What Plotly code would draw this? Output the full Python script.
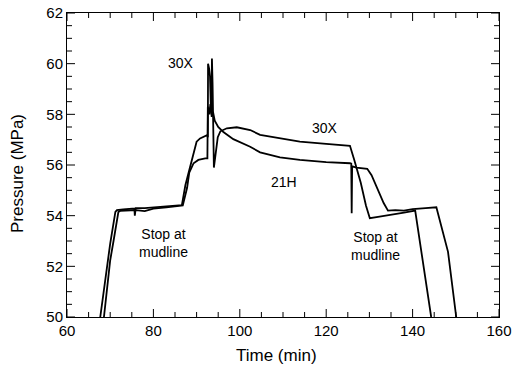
import numpy as np
import plotly.graph_objects as go

# ---- data ----
t_30x = [67.7, 68.5, 69.2, 70.0, 71.2, 71.55, 73.0, 75.0, 75.6, 75.7, 75.9, 78.0, 80.0, 83.0,
         86.6, 87.4, 88.5, 89.65, 90.0, 90.8, 91.6, 92.4, 92.6, 92.65, 92.9, 93.1, 93.3, 93.45,
         93.55, 93.7, 94.0, 94.4, 94.9, 95.5, 97.0, 99.3, 102.4, 104.7, 109.3, 113.9, 120.0,
         125.5, 126.5, 128.0, 129.2, 130.1, 132.0, 135.0, 138.0, 140.6, 142.4, 144.3]
p_30x = [50.0, 51.06, 51.98, 52.9, 54.15, 54.22, 54.25, 54.28, 54.28, 54.0, 54.3, 54.3, 54.33, 54.36,
         54.42, 55.2, 55.9, 56.72, 56.92, 57.05, 57.1, 57.18, 57.1, 60.0, 59.8, 59.5, 58.3, 58.0,
         60.2, 59.2, 55.9, 56.5, 57.1, 57.33, 57.45, 57.49, 57.38, 57.19, 57.05, 56.92, 56.83,
         56.76, 56.2, 55.3, 54.4, 53.9, 53.95, 54.05, 54.12, 54.2, 52.17, 50.0]

t_21h = [68.55, 69.2, 70.0, 70.8, 71.9, 72.3, 74.0, 76.0, 78.0, 80.0, 83.0, 86.8, 87.8, 88.3,
         89.3, 90.4, 92.0, 92.5, 92.6, 92.9, 93.2, 93.5, 93.8, 94.2, 95.0, 96.2, 98.5, 100.0,
         102.4, 104.7, 109.3, 113.9, 120.0, 125.5, 125.8, 125.9, 126.0, 127.0, 129.5, 130.5,
         132.0, 133.3, 134.3, 136.0, 138.0, 140.0, 143.0, 145.5, 148.2, 150.1]
p_21h = [50.0, 51.06, 52.24, 53.03, 54.15, 54.19, 54.2, 54.22, 54.18, 54.28, 54.33, 54.4, 55.1, 55.7,
         56.07, 56.2, 56.26, 56.26, 58.3, 58.0, 58.4, 57.9, 58.1, 57.75, 57.5, 57.3, 57.02, 56.9,
         56.72, 56.5, 56.3, 56.2, 56.11, 56.07, 56.05, 54.1, 55.95, 55.9, 55.85, 55.6,
         55.0, 54.5, 54.2, 54.22, 54.2, 54.26, 54.3, 54.33, 52.57, 50.0]

x_range = [60, 160]
y_range = [50, 62]
x_major, x_minor = 20, 5
y_major, y_minor = 2, 0.5

FONT = "Liberation Sans, Arial, Helvetica, sans-serif"
W, H = 519, 374
M = dict(l=67, r=20, t=13, b=57)

fig = go.Figure()
fig.add_trace(go.Scatter(x=t_30x, y=p_30x, mode="lines", name="30X",
                         line=dict(color="black", width=1.8)))
fig.add_trace(go.Scatter(x=t_21h, y=p_21h, mode="lines", name="21H",
                         line=dict(color="black", width=1.8)))

# inside tick marks on all four sides (major 8px, minor 5px), as one line trace
ux = (x_range[1] - x_range[0]) / (W - M["l"] - M["r"])   # axis units per pixel
uy = (y_range[1] - y_range[0]) / (H - M["t"] - M["b"])
tx, ty = [], []
for v in np.arange(x_range[0], x_range[1] + 1e-9, x_minor):
    L = 8 if abs(v / x_major - round(v / x_major)) < 1e-9 else 5
    tx += [v, v, None, v, v, None]
    ty += [y_range[0], y_range[0] + L * uy, None, y_range[1], y_range[1] - L * uy, None]
for v in np.arange(y_range[0], y_range[1] + 1e-9, y_minor):
    L = 8 if abs(v / y_major - round(v / y_major)) < 1e-9 else 5
    ty += [v, v, None, v, v, None]
    tx += [x_range[0], x_range[0] + L * ux, None, x_range[1], x_range[1] - L * ux, None]
fig.add_trace(go.Scatter(x=tx, y=ty, mode="lines", hoverinfo="skip", name="ticks",
                         line=dict(color="black", width=1)))

axis_common = dict(showgrid=False, zeroline=False, showline=True, linecolor="black",
                   linewidth=1, mirror=True, ticks="", automargin=False,
                   ticklabeloverflow="allow",
                   tickfont=dict(family=FONT, size=15, color="black"))
fig.update_xaxes(range=x_range, tickmode="linear", tick0=x_range[0], dtick=x_major, **axis_common)
fig.update_yaxes(range=y_range, tickmode="linear", tick0=y_range[0], dtick=y_major, **axis_common)

ann_font = dict(family=FONT, size=14, color="black")
labels = [
    ("30X", 86.4, 60.03),
    ("30X", 119.7, 57.46),
    ("21H", 110.2, 55.34),
    ("Stop at<br>mudline", 82.3, 52.92),
    ("Stop at<br>mudline", 131.5, 52.8),
]
for txt, x, y in labels:
    fig.add_annotation(x=x, y=y, text=txt, showarrow=False, font=ann_font,
                       xanchor="center", yanchor="middle")

title_font = dict(family=FONT, size=17, color="black")
fig.add_annotation(x=0.0, y=0.5, xref="paper", yref="paper", text="Pressure (MPa)",
                   showarrow=False, textangle=-90, font=title_font,
                   xanchor="center", yanchor="middle", xshift=-50, yshift=-9)
fig.add_annotation(x=0.5, y=0.0, xref="paper", yref="paper", text="Time (min)",
                   showarrow=False, font=title_font,
                   xanchor="center", yanchor="middle", xshift=-7, yshift=-38)

fig.update_layout(template="simple_white", width=W, height=H, margin=M,
                  paper_bgcolor="white", plot_bgcolor="white", showlegend=False)

# remove the default 8px page margin so the figure fills the 519x374 window exactly
fig.write_html("out.html", config={"displayModeBar": False},
               post_script="document.body.style.margin='0';")
